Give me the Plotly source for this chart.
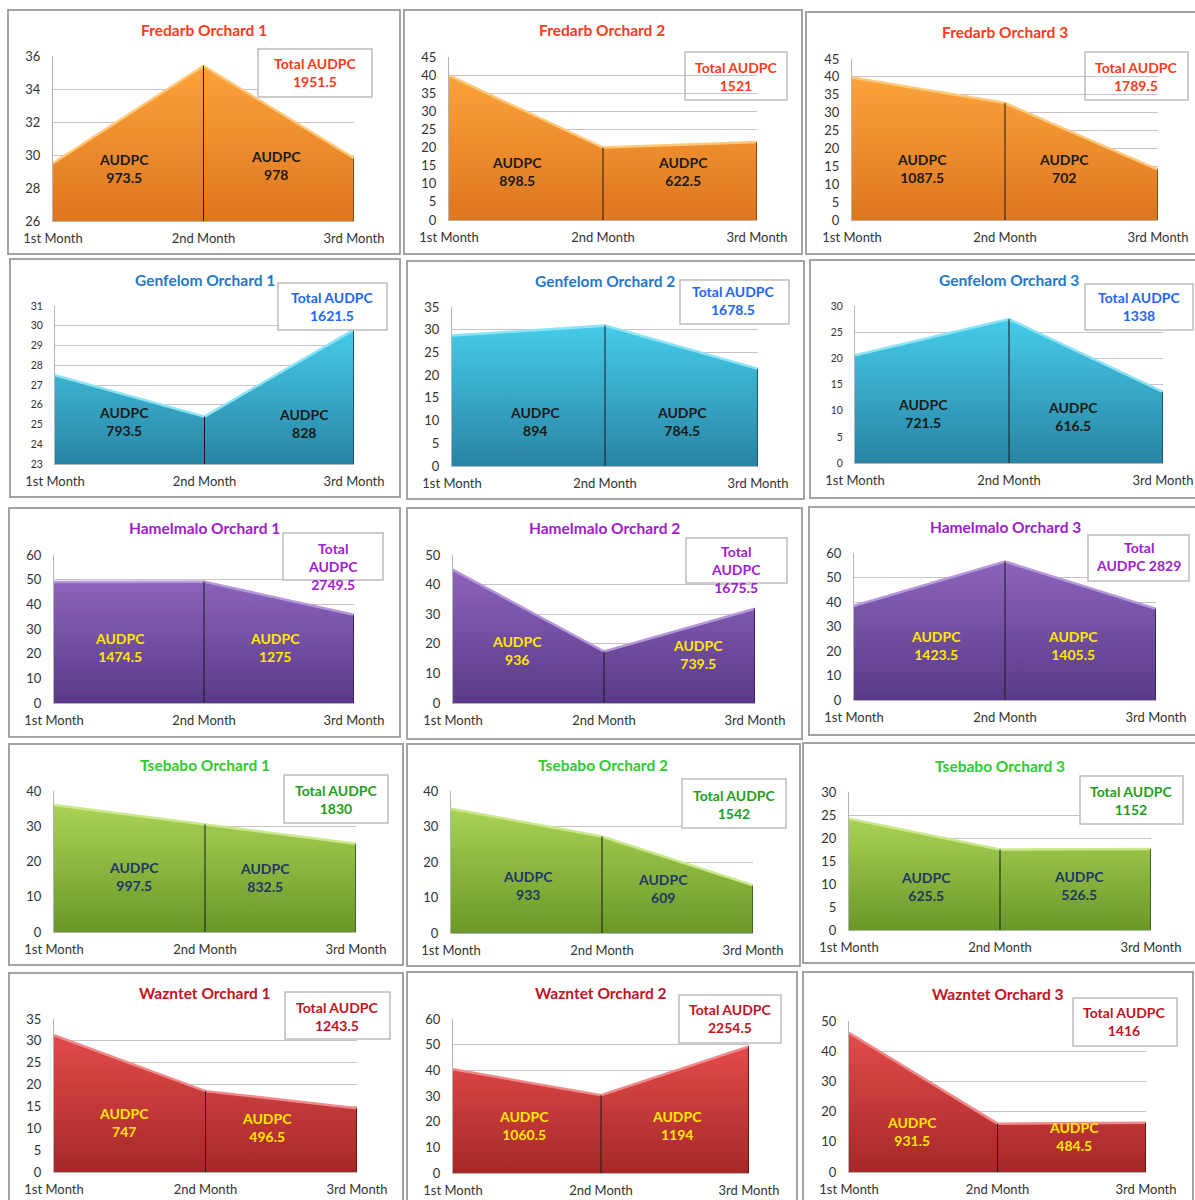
import plotly.graph_objects as go

W, H = 1195, 1200

months = ["1st Month", "2nd Month", "3rd Month"]
regions = ["Fredarb", "Genfelom", "Hamelmalo", "Tsebabo", "Wazntet"]

# disease severity at each monthly assessment, three orchards per region
fredarb_severity = [[29.5, 35.4, 29.8], [39.9, 20.0, 21.5], [39.8, 32.7, 14.1]]
genfelom_severity = [[27.5, 25.4, 29.8], [28.7, 30.9, 21.4], [20.6, 27.5, 13.6]]
hamelmalo_severity = [[49.1, 49.2, 35.8], [45.0, 17.4, 31.9], [38.4, 56.5, 37.2]]
tsebabo_severity = [[36.0, 30.5, 25.0], [35.0, 27.2, 13.4], [24.2, 17.5, 17.6]]
wazntet_severity = [[31.3, 18.5, 14.6], [40.4, 30.3, 49.3], [46.1, 16.0, 16.3]]

# AUDPC for the 1st-2nd and 2nd-3rd month intervals
fredarb_audpc = [[973.5, 978], [898.5, 622.5], [1087.5, 702]]
genfelom_audpc = [[793.5, 828], [894, 784.5], [721.5, 616.5]]
hamelmalo_audpc = [[1474.5, 1275], [936, 739.5], [1423.5, 1405.5]]
tsebabo_audpc = [[997.5, 832.5], [933, 609], [625.5, 526.5]]
wazntet_audpc = [[747, 496.5], [1060.5, 1194], [931.5, 484.5]]

severity = [fredarb_severity, genfelom_severity, hamelmalo_severity,
            tsebabo_severity, wazntet_severity]
audpc = [fredarb_audpc, genfelom_audpc, hamelmalo_audpc,
         tsebabo_audpc, wazntet_audpc]

# y axis (low, high, step) per panel
y_scales = [
    [(26, 36, 2), (0, 45, 5), (0, 45, 5)],
    [(23, 31, 1), (0, 35, 5), (0, 30, 5)],
    [(0, 60, 10), (0, 50, 10), (0, 60, 10)],
    [(0, 40, 10), (0, 40, 10), (0, 30, 5)],
    [(0, 35, 5), (0, 60, 10), (0, 50, 10)],
]

# ---- styling per region ----
styles = {
    "Fredarb": dict(top="#FBA33A", bottom="#DE7620", edge="#FFC878", dark="#8A4A10",
                    title="#FF3A1A", total="#FF3A1A", label="#1A1A1A"),
    "Genfelom": dict(top="#46CBEA", bottom="#2984A2", edge="#8AE4F6", dark="#1A5468",
                     title="#1F78C8", total="#1E66F5", label="#1A1A1A"),
    "Hamelmalo": dict(top="#8C63BC", bottom="#5A3A88", edge="#B597DB", dark="#3A2260",
                      title="#A020D0", total="#A020D0", label="#FFE800"),
    "Tsebabo": dict(top="#A9D255", bottom="#6A9828", edge="#CBE88A", dark="#44661A",
                    title="#2ECC2E", total="#1E9E1E", label="#1F3864"),
    "Wazntet": dict(top="#E24B4B", bottom="#A62828", edge="#F28A8A", dark="#6E1414",
                    title="#C0141E", total="#C0141E", label="#FFE800"),
}

# ---- panel geometry in pixels ----
frames = [
    [(8, 10, 400, 254), (404, 10, 802, 254), (806, 12, 1197, 254)],
    [(10, 259, 400, 497), (407, 261, 804, 499), (810, 260, 1197, 498)],
    [(9, 508, 400, 737), (407, 508, 802, 739), (809, 507, 1197, 735)],
    [(9, 744, 403, 965), (407, 744, 800, 966), (803, 743, 1197, 963)],
    [(9, 973, 403, 1202), (407, 972, 797, 1202), (803, 972, 1193, 1202)],
]
plots = [
    [(53, 354, 56, 221), (449, 757, 57, 220), (852, 1158, 59, 220)],
    [(55, 354, 306, 464), (452, 758, 307, 466), (855, 1163, 306, 463)],
    [(54, 354, 555, 703), (453, 755, 555, 703), (854, 1156, 553, 700)],
    [(54, 356, 791, 932), (451, 753, 791, 933), (849, 1151, 792, 930)],
    [(54, 357, 1019, 1172), (453, 749, 1019, 1173), (849, 1146, 1021, 1172)],
]
title_pos = [
    [(204, 30), (602, 30), (1005, 32)],
    [(205, 280), (605, 281), (1009, 280)],
    [(204, 528), (604, 528), (1005, 527)],
    [(205, 765), (603, 765), (1000, 766)],
    [(205, 993), (601, 993), (998, 994)],
]
total_box = [
    [(258, 49, 372, 97), (685, 52, 787, 100), (1085, 52, 1188, 100)],
    [(278, 283, 387, 330), (680, 280, 789, 324), (1085, 284, 1193, 330)],
    [(283, 533, 383, 580), (686, 538, 787, 583), (1088, 535, 1189, 581)],
    [(284, 775, 388, 823), (682, 779, 786, 828), (1080, 776, 1183, 824)],
    [(285, 992, 390, 1039), (679, 995, 781, 1043), (1073, 998, 1177, 1046)],
]
total_text_pos = [
    [(315, 72), (736, 76), (1136, 76)],
    [(332, 306), (733, 300), (1139, 306)],
    [(333, 566), (736, 569), (1138, 557)],
    [(336, 799), (734, 804), (1131, 800)],
    [(337, 1016), (730, 1018), (1124, 1021)],
]
total_wrap = [
    ["two", "two", "two"],
    ["two", "two", "two"],
    ["three", "three", "split"],
    ["two", "two", "two"],
    ["two", "two", "two"],
]
total_clear = [
    [False, True, True],
    [False, False, False],
    [False, False, False],
    [False, False, False],
    [False, False, False],
]
label_pos = [
    [((124, 168.5), (276, 166)), ((517, 172), (683, 172)), ((922, 168), (1064, 168))],
    [((124, 421), (304, 423)), ((535, 421.5), (682, 421.5)), ((923, 413), (1073, 416))],
    [((120, 647.5), (275, 647.5)), ((517, 650), (698, 655)), ((936, 645.5), (1073, 645.5))],
    [((134, 876.5), (265, 877)), ((528, 885), (663, 888)), ((926, 886), (1079, 885))],
    [((124, 1122.5), (267, 1127)), ((524, 1125.5), (677, 1125.5)), ((912, 1131.5), (1074, 1136))],
]
small_ticks = {(1, 0), (1, 2)}

FONT = "Lato, 'Open Sans', sans-serif"


def px(x):
    return x / W


def py(y):
    return 1 - y / H


def fmt(v):
    return f"{v:g}"


def note(x, y, text, size, color):
    return dict(x=px(x), y=py(y), xref="paper", yref="paper", showarrow=False,
                xanchor="center", yanchor="middle", align="center", text=text,
                font=dict(family=FONT, size=size, color=color))


fig = go.Figure()
shapes = []
annotations = []

for r, region in enumerate(regions):
    st = styles[region]
    for c in range(3):
        k = r * 3 + c + 1
        xa = "x" if k == 1 else f"x{k}"
        ya = "y" if k == 1 else f"y{k}"
        vals = severity[r][c]
        lo, hi, step = y_scales[r][c]
        left, right, top, bottom = plots[r][c]

        # outer panel frame
        fx0, fy0, fx1, fy1 = frames[r][c]
        shapes.append(dict(type="rect", xref="paper", yref="paper",
                           x0=px(fx0), x1=px(fx1), y0=py(fy1), y1=py(fy0),
                           line=dict(color="#A3A3A3", width=2), fillcolor="rgba(0,0,0,0)",
                           layer="below"))

        # gradient-filled area
        fig.add_trace(go.Scatter(
            x=months, y=vals, xaxis=xa, yaxis=ya, mode="lines",
            line=dict(color=st["edge"], width=2.5),
            fill="tozeroy",
            fillgradient=dict(type="vertical", start=lo, stop=max(vals),
                              colorscale=[[0, st["bottom"]], [1, st["top"]]]),
            hoverinfo="skip", showlegend=False))
        # darker right-hand edge of the area
        fig.add_trace(go.Scatter(
            x=[months[2], months[2]], y=[lo, vals[2]], xaxis=xa, yaxis=ya,
            mode="lines", line=dict(color=st["dark"], width=2),
            hoverinfo="skip", showlegend=False))
        # divider at the 2nd month
        fig.add_trace(go.Scatter(
            x=[months[1], months[1]], y=[lo, vals[1]], xaxis=xa, yaxis=ya,
            mode="lines", line=dict(color="#1A1A1A", width=1),
            hoverinfo="skip", showlegend=False))

        tick_size = 10.5 if (r, c) in small_ticks else 13
        fig.layout[f"xaxis{'' if k == 1 else k}"] = dict(
            domain=[px(left), px(right)], anchor=ya, type="category",
            range=[0, 2], showgrid=False, zeroline=False, automargin=False,
            showline=True, linecolor="#B5B5B5", linewidth=1,
            ticks="outside", ticklen=5, tickcolor="rgba(0,0,0,0)",
            tickfont=dict(family=FONT, size=13, color="#333333"),
            fixedrange=True)
        fig.layout[f"yaxis{'' if k == 1 else k}"] = dict(
            domain=[py(bottom), py(top)], anchor=xa,
            range=[lo, hi], dtick=step, tick0=lo, automargin=False,
            showgrid=True, gridcolor="#C4C4C4", gridwidth=1, zeroline=False,
            showline=True, linecolor="#B5B5B5", linewidth=1,
            ticks="outside", ticklen=9, tickcolor="rgba(0,0,0,0)",
            tickfont=dict(family=FONT, size=tick_size, color="#333333"),
            fixedrange=True)

        # title
        tx, ty = title_pos[r][c]
        annotations.append(note(tx, ty, f"<b>{region} Orchard {c + 1}</b>",
                                15.5, st["title"]))

        # total AUDPC box
        bx0, by0, bx1, by1 = total_box[r][c]
        shapes.append(dict(type="rect", xref="paper", yref="paper",
                           x0=px(bx0), x1=px(bx1), y0=py(by1), y1=py(by0),
                           line=dict(color="#BDBDBD", width=1.5),
                           fillcolor="rgba(0,0,0,0)" if total_clear[r][c] else "white",
                           layer="above"))
        total = fmt(sum(audpc[r][c]))
        wrap = total_wrap[r][c]
        if wrap == "three":
            ttext = f"<b>Total<br>AUDPC<br>{total}</b>"
        elif wrap == "split":
            ttext = f"<b>Total<br>AUDPC {total}</b>"
        else:
            ttext = f"<b>Total AUDPC<br>{total}</b>"
        ttx, tty = total_text_pos[r][c]
        annotations.append(note(ttx, tty, ttext, 14, st["total"]))

        # interval AUDPC labels
        for (lx, ly), a in zip(label_pos[r][c], audpc[r][c]):
            annotations.append(note(lx, ly, f"<b>AUDPC<br>{fmt(a)}</b>",
                                    14, st["label"]))

fig.update_layout(
    width=W, height=H, margin=dict(l=0, r=0, t=0, b=0, autoexpand=False),
    paper_bgcolor="white", plot_bgcolor="rgba(0,0,0,0)",
    shapes=shapes, annotations=annotations, showlegend=False,
    font=dict(family=FONT),
)

fig.write_html("out.html")
